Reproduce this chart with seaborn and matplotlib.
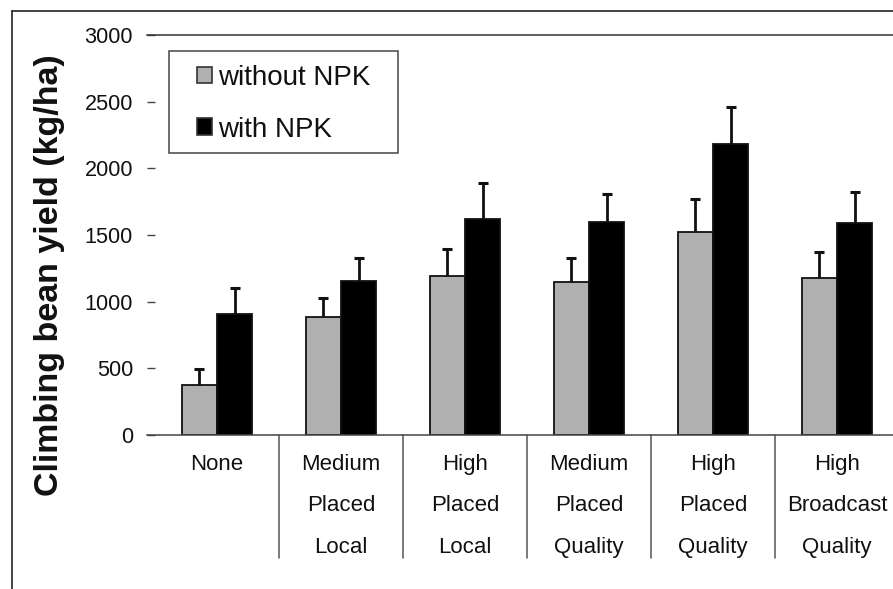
import matplotlib
matplotlib.use("Agg")
import matplotlib.pyplot as plt
from matplotlib.lines import Line2D
from matplotlib.patches import Patch, Rectangle
import seaborn as sns
import pandas as pd

# Fertiliser treatments (three-line category labels)
categories = [
    "None",
    "Medium\nPlaced\nLocal",
    "High\nPlaced\nLocal",
    "Medium\nPlaced\nQuality",
    "High\nPlaced\nQuality",
    "High\nBroadcast\nQuality",
]
series_names = ["without NPK", "with NPK"]

# Mean yield (kg/ha) and upper error
yield_without = [375, 888, 1192, 1145, 1525, 1180]
yield_with = [910, 1157, 1622, 1600, 2180, 1592]
err_without = [122, 137, 201, 180, 245, 195]
err_with = [190, 173, 270, 210, 282, 233]

y_ticks = [0, 500, 1000, 1500, 2000, 2500, 3000]

df = pd.DataFrame({
    "treatment": categories * 2,
    "yield": yield_without + yield_with,
    "npk": [series_names[0]] * len(categories) + [series_names[1]] * len(categories),
})

sns.set_theme(style="white")
plt.rcParams["font.family"] = ["Liberation Sans", "DejaVu Sans"]

W, H, DPI = 893, 589, 100
fig = plt.figure(figsize=(W / DPI, H / DPI), dpi=DPI)

# axes in pixel units
ax_l, ax_r, ax_t, ax_b = 147, 899, 35, 435
ax = fig.add_axes([ax_l / W, 1 - ax_b / H, (ax_r - ax_l) / W, (ax_b - ax_t) / H])

colors = {"without NPK": "#b0b0b0", "with NPK": "#000000"}
sns.barplot(
    data=df, x="treatment", y="yield", hue="npk", order=categories,
    hue_order=series_names, palette=colors, width=0.565, gap=0,
    edgecolor="#111111", linewidth=1.3, errorbar=None, legend=False, ax=ax,
)

# upper error bars at each bar's centre (no cap at the bar top)
for cont, errs in zip(ax.containers, [err_without, err_with]):
    xs = [p.get_x() + p.get_width() / 2 for p in cont.patches]
    hs = [p.get_height() for p in cont.patches]
    eb = ax.errorbar(xs, hs, yerr=[[0] * len(errs), errs], fmt="none",
                     ecolor="#111111", elinewidth=2, capsize=3.6, capthick=2.2,
                     zorder=1)
    eb[1][0].set_visible(False)

unit = 124.0
ax.set_xlim(-0.5 - 8 / unit, 5.5)
ax.set_ylim(0, 3000)
ax.set_yticks(y_ticks)
ax.set_yticklabels([str(v) for v in y_ticks], fontsize=15.6, color="#111111")
ax.tick_params(axis="y", direction="in", length=5.8, width=1, color="#444444",
               pad=10, left=True)
ax.tick_params(axis="x", length=0, pad=13.5)
ax.set_xticks(range(len(categories)))
ax.set_xticklabels(categories, fontsize=16, color="#111111", linespacing=2.28,
                   va="top")
ax.set_xlabel("")
ax.set_ylabel("")

for side in ["left", "right"]:
    ax.spines[side].set_visible(False)
ax.spines["top"].set_color("#333333")
ax.spines["top"].set_linewidth(1.1)
ax.spines["bottom"].set_color("#444444")
ax.spines["bottom"].set_linewidth(1.1)

# group separators below the axis
sep_len = (558 - ax_b) / (ax_b - ax_t)
for xb in [i + 0.5 for i in range(len(categories) - 1)]:
    ax.plot([xb, xb], [0, -sep_len], transform=ax.get_xaxis_transform(),
            color="#555555", lw=1.1, clip_on=False)

# legend box and entries
ax.add_patch(Rectangle((169 / W, 1 - 153 / H), (398 - 169) / W, (153 - 51) / H,
                       transform=fig.transFigure, facecolor="white",
                       edgecolor="#444444", linewidth=1.1, zorder=4.5,
                       clip_on=False))
handles = [Patch(facecolor=colors[n], edgecolor="#333333", linewidth=1.2)
           for n in series_names]
leg = ax.legend(handles, series_names, loc="upper left",
                bbox_to_anchor=(197 / W, 1 - 65 / H), bbox_transform=fig.transFigure,
                fontsize=20, frameon=False, handlelength=0.54,
                handleheight=0.54, handletextpad=0.2, labelspacing=0.92,
                borderpad=0, borderaxespad=0)
leg.set_zorder(6)
for t in leg.get_texts():
    t.set_color("#111111")

fig.text(50 / W, 1 - 275 / H, "Climbing bean yield (kg/ha)", rotation=90,
         fontsize=24.5, fontweight="bold", ha="center", va="center",
         color="#111111")

# outer frame lines (top and left)
fig.add_artist(Line2D([12 / W, 1], [1 - 11 / H, 1 - 11 / H],
                      transform=fig.transFigure, color="#222222", lw=1.2))
fig.add_artist(Line2D([12 / W, 12 / W], [0, 1 - 11 / H],
                      transform=fig.transFigure, color="#222222", lw=1.2))

fig.savefig("out.png", dpi=DPI, facecolor="white")
